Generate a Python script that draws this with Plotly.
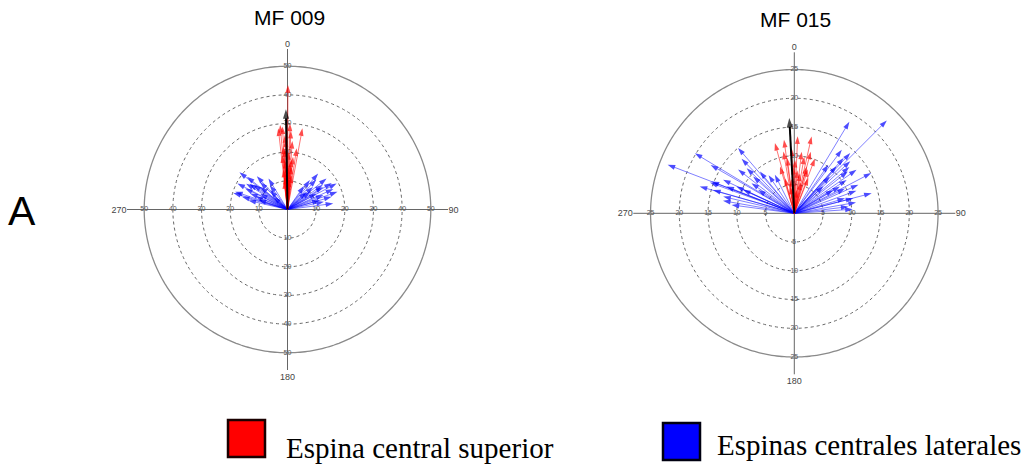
import numpy as np
import plotly.graph_objects as go

# ---------------- data ----------------
titles = ["MF 009", "MF 015"]

# MF 009
mf009_red_theta = [0.2, 1.7, -5, -3.5, 10.4, -6.5, 2.5, -2, 4, -4, 8.5, 1, -5.5, 6, -3, 3,
                   -1, 5.5, -6, 2, -2.5, 7, -4.5, 0.5, 3.5, -7, 1.5, -1.5, 4.5, -3]
mf009_red_r = [43.4, 30, 29.6, 29, 28.8, 28.5, 27.5, 26, 24, 22, 21.6, 20, 19, 18.5, 17, 16,
               15.5, 15, 14, 13.5, 12.5, 12, 11.5, 11, 10.5, 10, 9.5, 24.5, 17.5, 21]
mf009_black_theta = [-0.9]
mf009_black_r = [35]
mf009_blue_theta = [-52.3, -71.2, -73, -62.5, -51, -42.6, -31.5, -50, -66.7, -74.5, -72, -42,
                    -48, -54, -63.6, -58, -45, -68, -77, -36, -56, -60,
                    62, 70.5, 82.5, 40.4, 37.3, 51.5, 57.6, 74, 61, 47, 74, 48.5,
                    66, 55, 78, 44, 68, 59, 52, 35]
mf009_blue_r = [21.2, 19.3, 19.8, 19.7, 18.2, 15.8, 12.7, 12.4, 14.2, 16.5, 10.6, 9,
                6.6, 14.6, 16.5, 17, 13.5, 12, 14, 10.5, 16, 11,
                19.4, 18.5, 16.1, 16.5, 12.9, 17.4, 14.7, 16, 11.6, 9, 11.7, 11.9,
                17.5, 15, 13, 14.5, 13.5, 18, 10, 10]

# MF 015
mf015_red_theta = [-15.4, -8, 2.5, 12.7, 6.8, 15, 20.6, -7.3, -17, -1.2, 14.8, 8, -15, -9,
                   5.7, 21.8, 10, 0.7, -10, -2.3, 4, -5, 17, 12]
mf015_red_r = [12.7, 12.9, 13.4, 13.7, 10.8, 11.1, 10.2, 9.7, 8.5, 8.1, 8.4, 7, 6.3, 4.7,
               4.1, 6.6, 10, 9.3, 10.9, 11.3, 7.5, 6, 8, 5.5]
mf015_black_theta = [-3]
mf015_black_r = [16.6]
mf015_blue_theta = [31, 44.9, 62.4, 75.5, 75.7, 83, 41.7, 47, 55, 42, 44, 57.5, 59.7, 59,
                    47, 73.5, 42.9, 36.8, 35, 66, 70, 80, 52, 86, 64, 50,
                    -58.9, -69, -40.7, -74.2, -69, -64.8, -52, -46.6, -39.5, -34, -26.8,
                    -74, -82.4, -65.4, -54.9, -57, -65.2, -68.5, -76.8, -48.2, -70, -60,
                    -44, -80]
mf015_blue_r = [18.6, 22.8, 15.1, 13.9, 10.6, 9.5, 12.9, 13.3, 13.2, 11, 8.9, 10.8, 9.2, 7.9,
                6.9, 9.2, 14.3, 13.8, 10.3, 12.2, 11.5, 10.9, 11.8, 10.2, 9.8, 12.5,
                20.2, 23.6, 15, 17.1, 15.4, 13.7, 12.4, 11.4, 9.4, 8, 7.5,
                14.7, 11, 9.8, 9.1, 7.5, 11.1, 12.7, 12.7, 9.6, 15.6, 16.8,
                13.2, 12.6]

r_ticks = [[10, 20, 30, 40, 50], [5, 10, 15, 20, 25]]
r_max = [50, 25]
r_range = [56, 28]
angle_ticks = [0, 90, 180, 270]

legend_labels = ["Espina central superior", "Espinas centrales laterales"]

# ---------------- figure ----------------
fig = go.Figure()

def arrows(theta, r, line_color, head_color, width, head, sub):
    tt, rr, ss = [], [], []
    for t, v in zip(theta, r):
        tt += [t, t, None]
        rr += [0, v, None]
        ss += [0, head, 0]
    fig.add_trace(go.Scatterpolar(
        theta=tt, r=rr, mode="lines+markers", subplot=sub,
        line=dict(color=line_color, width=width),
        marker=dict(symbol="arrow", size=ss, color=head_color, angleref="previous",
                    line=dict(width=0)),
        hoverinfo="skip", showlegend=False, connectgaps=False))

datasets = [
    (mf009_red_theta, mf009_red_r, mf009_blue_theta, mf009_blue_r, mf009_black_theta, mf009_black_r),
    (mf015_red_theta, mf015_red_r, mf015_blue_theta, mf015_blue_r, mf015_black_theta, mf015_black_r),
]

circ = np.linspace(0, 360, 361)
for i, (rt, rv, bt, bv, kt, kv) in enumerate(datasets):
    sub = "polar" if i == 0 else "polar2"
    # outer solid circle
    fig.add_trace(go.Scatterpolar(theta=circ, r=[r_max[i]] * len(circ), mode="lines",
                                  subplot=sub, line=dict(color="#8a8a8a", width=1.3),
                                  hoverinfo="skip", showlegend=False))
    # radial tick labels on all four axes
    lt, lr, tx = [], [], []
    for a in angle_ticks:
        for v in r_ticks[i]:
            lt.append(a)
            lr.append(v)
            tx.append(str(v))
    fig.add_trace(go.Scatterpolar(theta=lt, r=lr, mode="text", text=tx, subplot=sub,
                                  textfont=dict(size=7, color="#555", family="Liberation Sans"),
                                  hoverinfo="skip", showlegend=False, cliponaxis=False))
    arrows(bt, bv, "rgba(0,0,255,0.5)", "#0000ff", 1, 8, sub)
    arrows(rt, rv, "rgba(255,0,0,0.55)", "#ff0000", 1, 8, sub)
    arrows(kt, kv, "#000000", "#000000", 2, 10, sub)

W, H = 1029, 469

def polar_layout(cx, cy, rad, rng, ticks):
    return dict(
        domain=dict(x=[(cx - rad) / W, (cx + rad) / W],
                    y=[1 - (cy + rad) / H, 1 - (cy - rad) / H]),
        bgcolor="white",
        radialaxis=dict(range=[0, rng], tickvals=ticks[:-1], showticklabels=False,
                        showline=False, ticks="", showgrid=True, gridcolor="#666",
                        griddash="dot", gridwidth=1),
        angularaxis=dict(direction="clockwise", rotation=90, tickvals=angle_ticks,
                         ticktext=[str(a) for a in angle_ticks], showline=False,
                         ticks="", showgrid=True, gridcolor="#666", gridwidth=1,
                         tickfont=dict(size=9, color="#444", family="Liberation Sans")),
    )

fig.update_layout(
    width=W, height=H, margin=dict(l=0, r=0, t=0, b=0),
    paper_bgcolor="white", plot_bgcolor="white", showlegend=False,
    polar=polar_layout(287.5, 209.5, 160.5, r_range[0], r_ticks[0]),
    polar2=polar_layout(794.3, 213.3, 161, r_range[1], r_ticks[1]),
)

def txt(text, x, y, size, family, xanchor="center"):
    return dict(text=text, x=x / W, y=1 - y / H, xref="paper", yref="paper",
                xanchor=xanchor, yanchor="middle", showarrow=False,
                font=dict(size=size, color="#000", family=family))

ann = [
    txt(titles[0], 289, 17, 21, "Liberation Sans"),
    txt(titles[1], 795, 19, 21, "Liberation Sans"),
    txt("A", 22, 211, 41, "Liberation Sans"),
    txt(legend_labels[0], 284, 448, 29, "Liberation Serif", "left"),
    txt(legend_labels[1], 715, 445, 29, "Liberation Serif", "left"),
]
fig.update_layout(annotations=ann)

fig.add_shape(type="rect", xref="paper", yref="paper",
              x0=228 / W, x1=265 / W, y0=1 - 457 / H, y1=1 - 420 / H,
              fillcolor="#ff0000", line=dict(color="#1a0000", width=2.5))
fig.add_shape(type="rect", xref="paper", yref="paper",
              x0=663 / W, x1=700 / W, y0=1 - 460 / H, y1=1 - 423 / H,
              fillcolor="#0000ff", line=dict(color="#000010", width=2.5))

fig.write_html("out.html")
